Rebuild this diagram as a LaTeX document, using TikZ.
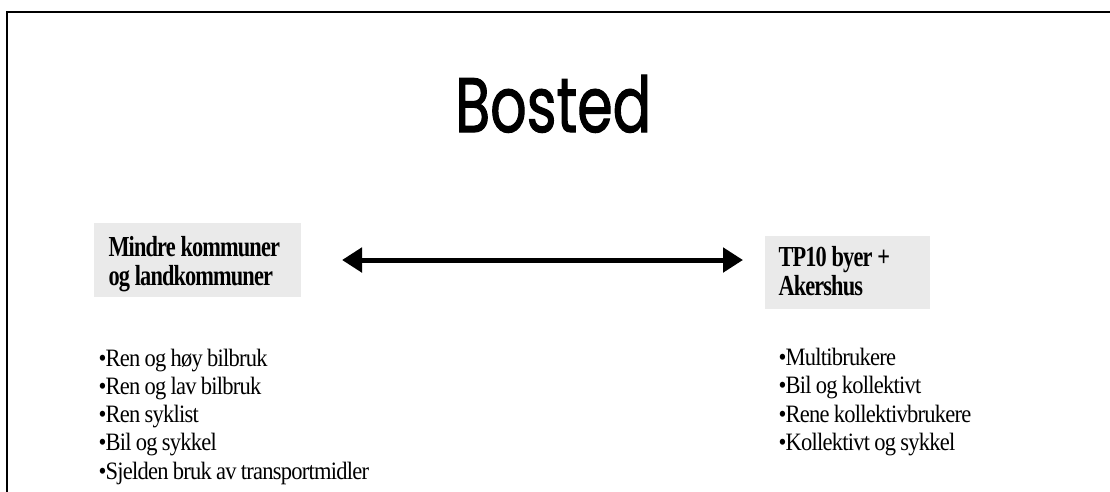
\documentclass[tikz,border=0pt]{standalone}
\usepackage{fontspec}
\usetikzlibrary{arrows.meta}
\setmainfont{Liberation Serif}
\newfontfamily\titlefont[FakeBold=1.6]{Poppins}
\newfontfamily\bodyfont[FakeStretch=0.9,LetterSpace=-3]{Liberation Serif}
\newfontfamily\headfont[FakeStretch=0.77,LetterSpace=-3]{Liberation Serif}
\definecolor{boxgray}{HTML}{EAEAEA}
% text settings with tight word spacing
\newcommand\headstyle{\headfont\bfseries\fontsize{29}{29}\selectfont
  \spaceskip=0.17em plus 0.05em\relax}
\newcommand\bodystyle{\bodyfont\fontsize{25}{28}\selectfont
  \spaceskip=0.17em plus 0.05em\relax}
\begin{document}
\begin{tikzpicture}[x=1pt,y=-1pt,
  boxtext/.style={anchor=base west, inner sep=0pt},
  item/.style={anchor=base west, inner sep=0pt},
  graybox/.style={fill=boxgray, draw=none},
  link/.style={line width=5pt, {Triangle[length=20pt,width=24pt]}-{Triangle[length=20pt,width=24pt]}}]
  \useasboundingbox (0,0) rectangle (1110,491);
  \fill[white] (0,0) rectangle (1110,491);
  % frame
  \draw[line width=2pt] (7.3,492) -- (7.3,11.5) -- (1111,11.5);
  % title
  \node[anchor=base west, inner sep=0pt] (title) at (455,132)
    {\resizebox{196pt}{57pt}{\titlefont Bosted}};
  % category boxes
  \fill[graybox] (94,223) rectangle (301,297);
  \fill[graybox] (765,236) rectangle (930,309);
  \node[boxtext] (small1) at (108.3,256) {\headstyle Mindre kommuner};
  \node[boxtext] (small2) at (108.3,285) {\headstyle og landkommuner};
  \node[boxtext] (city1) at (778.3,266.7) {\headstyle TP10 byer +};
  \node[boxtext] (city2) at (778.3,295) {\headstyle Akershus};
  % double arrow between the two groups
  \coordinate (arrL) at (342,260);
  \coordinate (arrR) at (743,260);
  \draw[link] (arrL) -- (arrR);
  % user groups
  \foreach \t [count=\i] in {Ren og høy bilbruk, Ren og lav bilbruk, Ren syklist, Bil og sykkel, Sjelden bruk av transportmidler}
    \node[item] (left\i) at (98.3,{366+28.25*(\i-1)}) {\bodystyle •\t};
  \foreach \t [count=\i] in {Multibrukere, Bil og kollektivt, Rene kollektivbrukere, Kollektivt og sykkel}
    \node[item] (right\i) at (778.3,{365.5+28.25*(\i-1)}) {\bodystyle •\t};
\end{tikzpicture}
\end{document}
